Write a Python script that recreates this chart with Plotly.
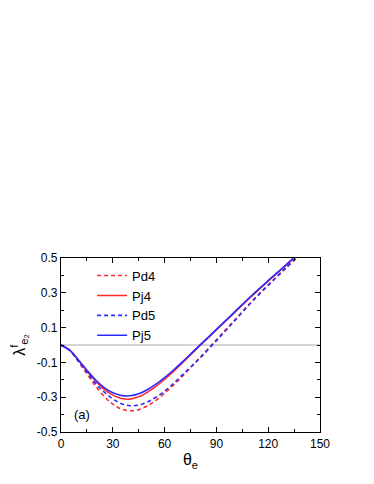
import plotly.graph_objects as go

theta = [0, 5, 10, 15, 20, 25, 30, 35, 40, 45, 50, 55, 60, 65, 70, 75, 80, 90, 100, 110, 120, 130, 140]

pd4 = [0, -0.03, -0.095, -0.165, -0.235, -0.295, -0.34, -0.368, -0.378, -0.372, -0.35,
       -0.318, -0.277, -0.232, -0.183, -0.13, -0.077, 0.03, 0.137, 0.245, 0.345, 0.44, 0.535]
pj4 = [0, -0.03, -0.088, -0.15, -0.207, -0.255, -0.288, -0.307, -0.311, -0.298, -0.272,
       -0.238, -0.197, -0.153, -0.106, -0.057, -0.008, 0.087, 0.182, 0.277, 0.367, 0.455, 0.545]
pd5 = [0, -0.03, -0.09, -0.155, -0.22, -0.27, -0.31, -0.337, -0.349, -0.345, -0.328,
       -0.3, -0.265, -0.222, -0.175, -0.128, -0.08, 0.025, 0.133, 0.243, 0.343, 0.44, 0.535]
pj5 = [0, -0.03, -0.085, -0.145, -0.2, -0.245, -0.275, -0.29, -0.292, -0.28, -0.257,
       -0.225, -0.187, -0.145, -0.1, -0.052, -0.005, 0.09, 0.185, 0.28, 0.37, 0.458, 0.55]

series = [
    ("Pd4", pd4, "#ff2a2a", "4px,3px"),
    ("Pj4", pj4, "#ff2a2a", "solid"),
    ("Pd5", pd5, "#2a2aff", "4px,3px"),
    ("Pj5", pj5, "#2a2aff", "solid"),
]

fig = go.Figure()
fig.add_trace(go.Scatter(x=[0, 150], y=[0, 0], mode="lines",
                         line=dict(color="#aaaaaa", width=1),
                         showlegend=False, hoverinfo="skip"))
for name, vals, color, dash in series:
    fig.add_trace(go.Scatter(x=theta, y=vals, mode="lines", name=name,
                             line=dict(color=color, width=1.6, dash=dash,
                                       shape="spline")))

axis_common = dict(
    showline=True, linecolor="black", linewidth=1.3, mirror="allticks",
    ticks="inside", ticklen=5, tickwidth=1, tickcolor="black",
    showgrid=False, zeroline=False, automargin=False,
    tickfont=dict(family="Liberation Sans", size=12, color="black"),
)

fig.update_xaxes(range=[0, 150], tickvals=[0, 30, 60, 90, 120, 150],
                 minor=dict(ticks="inside", ticklen=3, dtick=15, tickcolor="black"),
                 title=dict(text="θ<sub>e</sub>", standoff=4,
                            font=dict(family="Liberation Sans", size=16)),
                 **axis_common)
fig.update_yaxes(range=[-0.5, 0.5], tickvals=[-0.5, -0.3, -0.1, 0.1, 0.3, 0.5],
                 ticktext=["-0.5", "-0.3", "-0.1", "0.1", "0.3", "0.5"],
                 minor=dict(ticks="inside", ticklen=3, dtick=0.1, tickcolor="black"),
                 title=dict(text="λ<sup>f</sup><sub>e₂</sub>", standoff=8,
                            font=dict(family="Liberation Sans", size=16)),
                 **axis_common)

fig.add_annotation(x=12, y=-0.4, text="(a)", showarrow=False,
                   font=dict(family="Liberation Sans", size=13, color="black"))

# the page body adds an 8px offset, margins compensate for it
fig.update_layout(
    width=374, height=484,
    margin=dict(l=53, r=62, t=250, b=60),
    paper_bgcolor="white", plot_bgcolor="white",
    font=dict(family="Liberation Sans", color="black"),
    legend=dict(x=0.12, y=0.985, xanchor="left", yanchor="top",
                bgcolor="rgba(0,0,0,0)", tracegroupgap=0,
                font=dict(size=13), itemwidth=30),
)

fig.write_html("out.html")
